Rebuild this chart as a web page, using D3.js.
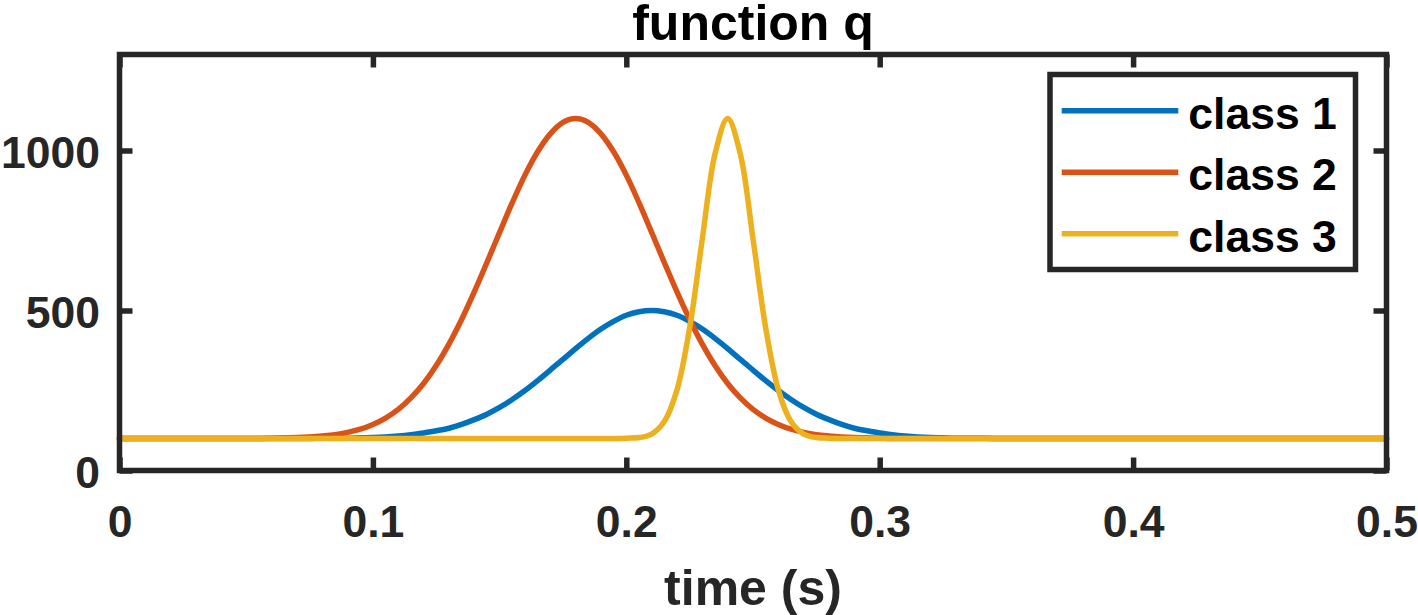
<!DOCTYPE html>
<html>
<head>
<meta charset="utf-8">
<script src="https://cdn.jsdelivr.net/npm/d3@7"></script>
<style>
  html, body { margin: 0; padding: 0; background: #fff; }
  svg { display: block; }
  text { font-family: "Liberation Sans", Arial, Helvetica, sans-serif; font-weight: bold; }
</style>
</head>
<body>
<svg id="chart" width="1418" height="615"></svg>
<script>
// ---- data ----
const time = [0, 0.05, 0.055, 0.06, 0.065, 0.07, 0.075, 0.08, 0.085, 0.09, 0.095,
  0.10, 0.105, 0.11, 0.115, 0.12, 0.125, 0.13, 0.135, 0.14, 0.145,
  0.15, 0.155, 0.16, 0.165, 0.17, 0.175, 0.18, 0.185, 0.19, 0.195,
  0.20, 0.205, 0.21, 0.215, 0.22, 0.225, 0.23, 0.235, 0.24, 0.245,
  0.25, 0.255, 0.26, 0.265, 0.27, 0.275, 0.28, 0.285, 0.29, 0.295,
  0.30, 0.305, 0.31, 0.315, 0.32, 0.325, 0.33, 0.335, 0.34, 0.345,
  0.35, 0.5];

const class1 = [100, 100, 100, 100, 100, 100, 100, 101, 101, 101, 102,
  103, 105, 108, 112, 117, 124, 132, 144, 159, 176,
  197, 222, 250, 281, 314, 347, 381, 413, 442, 466,
  485, 496, 500, 496, 485, 466, 442, 413, 381, 347,
  314, 281, 250, 222, 197, 176, 159, 144, 132, 124,
  117, 112, 108, 105, 103, 102, 101, 101, 101, 100,
  100, 100];

const class2 = [100, 100, 100, 101, 102, 103, 105, 108, 112, 119, 129,
  144, 164, 191, 227, 272, 328, 395, 472, 558, 650,
  744, 837, 923, 996, 1052, 1088, 1100, 1088, 1052, 996,
  923, 837, 744, 650, 558, 472, 395, 328, 272, 227,
  191, 164, 144, 129, 119, 112, 108, 105, 103, 102,
  101, 100, 100, 100, 100, 100, 100, 100, 100, 100,
  100, 100];

const class3 = [100, 100, 100, 100, 100, 100, 100, 100, 100, 100, 100,
  100, 100, 100, 100, 100, 100, 100, 100, 100, 100,
  100, 100, 100, 100, 100, 100, 100, 100, 100, 100,
  101, 103, 114, 153, 252, 446, 724, 989, 1100, 989,
  724, 446, 252, 153, 114, 103, 101, 100, 100, 100,
  100, 100, 100, 100, 100, 100, 100, 100, 100, 100,
  100, 100];

const seriesNames = ["class 1", "class 2", "class 3"];
const xTicks = [0, 0.1, 0.2, 0.3, 0.4, 0.5];
const xTickLabels = ["0", "0.1", "0.2", "0.3", "0.4", "0.5"];
const yTicks = [0, 500, 1000];
const yTickLabels = ["0", "500", "1000"];
const titleText = "function q";
const xLabelText = "time (s)";

// ---- layout / style ----
const colors = ["#0072BD", "#D95319", "#EDB120"];
const axisColor = "#262626";
const L = 119.5, R = 1386.5, T = 54.5, B = 470.5;
const fs = 44.5;

const svg = d3.select("#chart");
const x = d3.scaleLinear().domain([0, 0.5]).range([L, R]);
const y = d3.scaleLinear().domain([0, 1300]).range([B, T]);

const series = [class1, class2, class3].map((vals, i) => ({
  name: seriesNames[i],
  color: colors[i],
  points: time.map((t, j) => [t, vals[j]])
}));

// lines
const line = d3.line()
  .x(d => x(d[0]))
  .y(d => y(d[1]))
  .curve(d3.curveCatmullRom.alpha(0.5));

svg.append("g").selectAll("path")
  .data(series)
  .join("path")
  .attr("d", d => line(d.points))
  .attr("fill", "none")
  .attr("stroke", d => d.color)
  .attr("stroke-width", 5.5)
  .attr("stroke-linejoin", "round")
  .attr("stroke-linecap", "round");

// axes (ticks inward, mirrored on all sides)
const tickLen = 13;
function styleAxis(g) {
  g.select(".domain").remove();
  g.selectAll(".tick line").attr("stroke", axisColor).attr("stroke-width", 5.5);
  g.selectAll(".tick text").attr("fill", axisColor).style("font-size", fs + "px")
    .style("font-family", '"Liberation Sans", Arial, Helvetica, sans-serif').style("font-weight", "bold");
}

svg.append("g")
  .attr("transform", `translate(0,${B})`)
  .call(d3.axisBottom(x).tickValues(xTicks).tickFormat((d, i) => xTickLabels[i])
    .tickSizeInner(-tickLen).tickSizeOuter(0).tickPadding(35))
  .call(styleAxis)
  .call(g => g.selectAll(".tick text").attr("dy", "0.71em"));

svg.append("g")
  .attr("transform", `translate(0,${T})`)
  .call(d3.axisTop(x).tickValues(xTicks).tickFormat("")
    .tickSizeInner(-tickLen).tickSizeOuter(0))
  .call(styleAxis);

svg.append("g")
  .attr("transform", `translate(${L},0)`)
  .call(d3.axisLeft(y).tickValues(yTicks).tickFormat((d, i) => yTickLabels[i])
    .tickSizeInner(-tickLen).tickSizeOuter(0).tickPadding(19.5))
  .call(styleAxis)
  .call(g => g.selectAll(".tick text").attr("dy", null).attr("y", 17));

svg.append("g")
  .attr("transform", `translate(${R},0)`)
  .call(d3.axisRight(y).tickValues(yTicks).tickFormat("")
    .tickSizeInner(-tickLen).tickSizeOuter(0))
  .call(styleAxis);

// box
svg.append("rect")
  .attr("x", L).attr("y", T)
  .attr("width", R - L).attr("height", B - T)
  .attr("fill", "none")
  .attr("stroke", axisColor)
  .attr("stroke-width", 5.5);

// title
svg.append("text")
  .attr("x", (L + R) / 2).attr("y", 40)
  .attr("text-anchor", "middle")
  .attr("fill", "#000")
  .style("font-size", "50px")
  .text(titleText);

// x label
svg.append("text")
  .attr("x", (L + R) / 2).attr("y", 605)
  .attr("text-anchor", "middle")
  .attr("fill", axisColor)
  .style("font-size", "50px")
  .text(xLabelText);

// legend
const lg = svg.append("g");
lg.append("rect")
  .attr("x", 1050).attr("y", 74.5)
  .attr("width", 305.5).attr("height", 195)
  .attr("fill", "#fff")
  .attr("stroke", axisColor)
  .attr("stroke-width", 5.5);

const legendY = d3.scalePoint().domain(seriesNames).range([110.7, 233.7]);
const items = lg.selectAll("g.item").data(series).join("g").attr("class", "item");
items.append("line")
  .attr("x1", 1061.7).attr("x2", 1178.3)
  .attr("y1", d => legendY(d.name)).attr("y2", d => legendY(d.name))
  .attr("stroke", d => d.color)
  .attr("stroke-width", 5.5);
items.append("text")
  .attr("x", 1188.3)
  .attr("y", d => legendY(d.name) + 18)
  .attr("fill", "#000")
  .style("font-size", fs + "px")
  .text(d => d.name);
</script>
</body>
</html>
